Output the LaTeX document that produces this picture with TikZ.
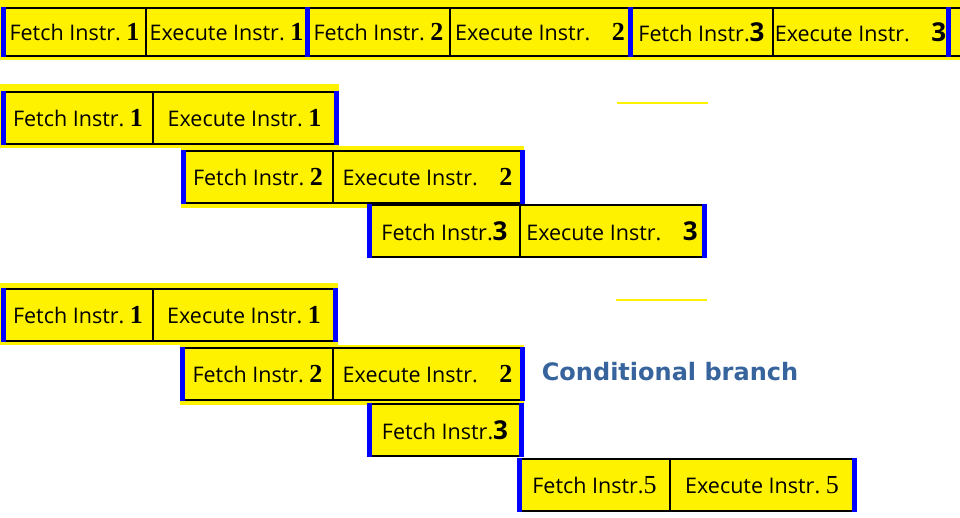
\documentclass[tikz,border=0pt]{standalone}
\usepackage{fontspec}
\usepackage{tikz}
\usetikzlibrary{positioning,backgrounds}
\newfontfamily\instrfont{Open Sans}
\newfontfamily\serifnum{Liberation Serif}
\newfontfamily\branchfont{DejaVu Sans}
\definecolor{branchblue}{RGB}{56,100,158}
\newcommand{\sn}[1]{{\serifnum\bfseries\fontsize{26}{28}\selectfont #1}}
\newcommand{\bn}[1]{{\instrfont\bfseries\fontsize{26}{28}\selectfont #1}}
\newcommand{\rn}[1]{{\serifnum\fontsize{26}{28}\selectfont #1}}

\begin{document}
\begin{tikzpicture}[x=1pt,y=-1pt,
  instr/.style={draw=black,line width=2.5pt,fill=yellow,inner sep=0pt,outer sep=0pt,
    minimum height=52pt,anchor=north west,font=\instrfont\fontsize{21.5}{24}\selectfont},
  row0/.style={minimum height=48pt},
  bar/.style={blue,line width=5pt,shorten <=-1.25pt,shorten >=-1.25pt},
  halo/.style={fill=yellow},
  branch/.style={text=branchblue,font=\branchfont\bfseries\fontsize{24}{28}\selectfont}]
  \useasboundingbox (0,0) rectangle (960,518);
  \fill[halo] (0,0) rectangle (960,60);
  \node[instr,row0,minimum width=143pt] (FA1) at (3,8) {Fetch Instr.~\sn{1}};
  \node[instr,row0,minimum width=161pt,right=0pt of FA1] (EA1) {Execute Instr.~\sn{1}};
  \node[instr,row0,minimum width=143pt,right=0pt of EA1] (FA2) {Fetch Instr.~\sn{2}};
  \node[instr,row0,minimum width=180pt,right=0pt of FA2] (EA2) {Execute Instr.\quad\sn{2}};
  \node[instr,row0,minimum width=143pt,right=0pt of EA2] (FA3) {Fetch Instr.\bn{3}};
  \node[instr,row0,minimum width=175pt,right=0pt of FA3] (EA3) {Execute Instr.\quad\bn{3}};
  \node[instr,row0,minimum width=40pt,right=0pt of EA3] (FA4) {};
  \node[instr,minimum width=150pt] (FB1) at (3,92) {Fetch Instr.~\sn{1}};
  \node[instr,minimum width=183pt,right=0pt of FB1] (EB1) {Execute Instr.~\sn{1}};
  \node[instr,minimum width=150pt] (FB2) at (183,151) {Fetch Instr.~\sn{2}};
  \node[instr,minimum width=189pt,right=0pt of FB2] (EB2) {Execute Instr.\quad\sn{2}};
  \node[instr,minimum width=151pt] (FB3) at (369,205) {Fetch Instr.\bn{3}};
  \node[instr,minimum width=184pt,right=0pt of FB3] (EB3) {Execute Instr.\quad\bn{3}};
  \node[instr,minimum width=150pt] (FC1) at (3,289) {Fetch Instr.~\sn{1}};
  \node[instr,minimum width=182pt,right=0pt of FC1] (EC1) {Execute Instr.~\sn{1}};
  \node[instr,minimum width=151pt] (FC2) at (182,348) {Fetch Instr.~\sn{2}};
  \node[instr,minimum width=189pt,right=0pt of FC2] (EC2) {Execute Instr.\quad\sn{2}};
  \node[instr,minimum width=152pt] (FC3) at (369,404) {Fetch Instr.\bn{3}};
  \node[instr,minimum width=151pt] (FC5) at (519,459) {Fetch Instr.\rn{5}};
  \node[instr,minimum width=184pt,right=0pt of FC5] (EC5) {Execute Instr.~\rn{5}};
  \node[branch] (cond) at (670,372) {Conditional branch};
  \foreach \n in {FA1,FA2,FA3,FA4,FB1,FB2,FB3,FC1,FC2,FC3,FC5}
    \draw[bar] (\n.north west) -- (\n.south west);
  \foreach \n in {EB1,EB2,EB3,EC1,EC2,FC3,EC5}
    \draw[bar] (\n.north east) -- (\n.south east);
  \begin{scope}[on background layer]
    \fill[halo] ([shift={(-3,-8)}]FB1.north west) rectangle ([shift={(3,4)}]EB1.south east);
    \fill[halo] ([shift={(-2,-5)}]FB2.north west) rectangle ([shift={(2,5)}]EB2.south east);
    \fill[halo] ([shift={(-3,-6)}]FC1.north west) rectangle ([shift={(3,4)}]EC1.south east);
    \fill[halo] ([shift={(-2,-3)}]FC2.north west) rectangle ([shift={(2,5)}]EC2.south east);
  \end{scope}
  \draw[halo,draw=yellow,line width=2pt] (617,103) -- (708,103);
  \draw[halo,draw=yellow,line width=2pt] (616,300) -- (707,300);
\end{tikzpicture}
\end{document}
